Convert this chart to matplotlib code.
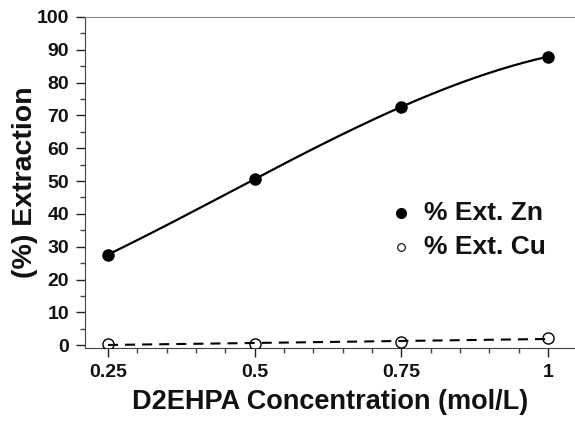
import matplotlib.pyplot as plt
import numpy as np

plt.rcParams['font.family'] = ['Liberation Sans', 'DejaVu Sans']
plt.rcParams['font.weight'] = 'bold'

conc = [0.25, 0.5, 0.75, 1.0]
ext_zn = [27.6, 50.6, 72.6, 87.9]
ext_cu = [0.3, 0.5, 0.9, 2.2]

fig = plt.figure(figsize=(5.75, 4.23), dpi=100)
ax = fig.add_axes([0.148, 0.177, 0.852, 0.783])

# smooth curve for Zn, linear trend for Cu
xs = np.linspace(conc[0], conc[-1], 200)
zn_fit = np.polyfit(conc, ext_zn, 3)
ax.plot(xs, np.polyval(zn_fit, xs), color='black', lw=1.6, zorder=2)
cu_fit = np.polyfit(conc, ext_cu, 1)
ax.plot(xs, np.polyval(cu_fit, xs), color='black', lw=1.5, ls=(0, (4.8, 3.4)), zorder=2)

ax.plot(conc, ext_zn, 'o', color='black', ms=8, zorder=3)
ax.plot(conc, ext_cu, 'o', mfc='none', mec='black', mew=1.0, ms=8, zorder=3)

# legend drawn as markers + text
ax.plot([0.75], [40.3], 'o', color='black', ms=7, clip_on=False)
ax.plot([0.75], [29.9], 'o', mfc='white', mec='black', mew=0.8, ms=5.5, clip_on=False)
ax.text(0.789, 40.3, '% Ext. Zn', fontsize=19, fontweight='bold', va='center', color='#111111')
ax.text(0.789, 29.9, '% Ext. Cu', fontsize=19, fontweight='bold', va='center', color='#111111')

ax.set_xlim(0.211, 1.046)
ax.set_ylim(-0.9, 100)
ax.set_xticks(conc)
ax.set_xticklabels(['0.25', '0.5', '0.75', '1'])
ax.set_xticks(np.arange(0.25, 1.05, 0.05), minor=True)
ax.set_yticks(np.arange(0, 101, 10))
ax.set_yticks(np.arange(0, 101, 5), minor=True)

ax.tick_params(axis='both', which='major', labelsize=14, direction='out', length=6.5, width=1, colors='#222222', pad=5)
ax.tick_params(axis='x', which='major', pad=5)
ax.tick_params(axis='both', which='minor', direction='out', length=3.5, width=1, colors='#444444')
for lbl in ax.get_xticklabels() + ax.get_yticklabels():
    lbl.set_fontweight('bold')
    lbl.set_color('#111111')

ax.spines['right'].set_visible(False)
ax.spines['top'].set_color('#888888')
ax.spines['left'].set_color('#444444')
ax.spines['bottom'].set_color('#444444')

ax.set_xlabel('D2EHPA Concentration (mol/L)', fontsize=19.5, fontweight='bold', labelpad=6, color='#111111')
ax.set_ylabel('(%) Extraction', fontsize=20.5, fontweight='bold', labelpad=-1, color='#111111')

fig.savefig('out.png', dpi=100)
